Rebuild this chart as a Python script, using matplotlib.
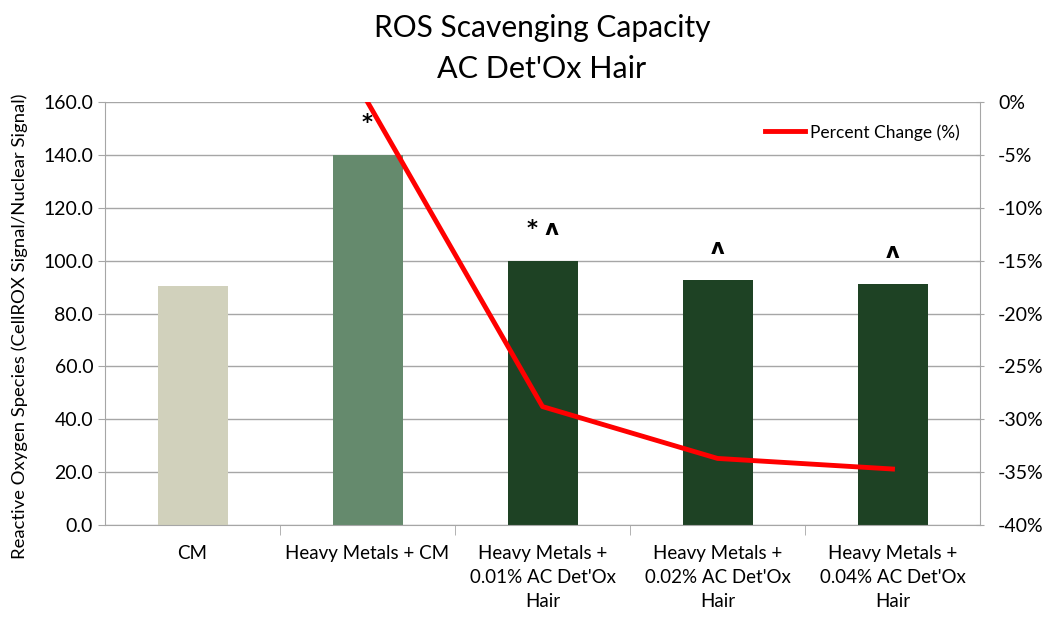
import matplotlib.pyplot as plt
import matplotlib.ticker as mticker

plt.rcParams['font.family'] = ['Lato', 'DejaVu Sans']

categories = ['CM', 'Heavy Metals + CM', "Heavy Metals +\n0.01% AC Det'Ox\nHair",
              "Heavy Metals +\n0.02% AC Det'Ox\nHair", "Heavy Metals +\n0.04% AC Det'Ox\nHair"]
ros_values = [90.5, 140.0, 100.0, 92.8, 91.3]
percent_change = [None, 0.0, -0.288, -0.337, -0.347]
marks = ['', '*', '* ^', '^', '^']
bar_colors = ['#D1D1BC', '#658A6D', '#1E4224', '#1E4224', '#1E4224']

fig = plt.figure(figsize=(10.42, 6.17), dpi=100)
ax = fig.add_axes([0.1008, 0.149, 0.8397, 0.6857])
grid_c = '#A6A6A6'

x = list(range(len(categories)))
ax.bar(x, ros_values, width=0.4, color=bar_colors, zorder=2)
for xi, v, m in zip(x, ros_values, marks):
    if m:
        ax.text(xi, v + 12, m.replace('^', '\u028c'), ha='center', va='center', fontsize=15,
                family=['DejaVu Sans'], fontweight='bold')

ax.set_xlim(-0.5, len(categories) - 0.5)
ax.set_ylim(0, 160)
ax.set_yticks(range(0, 161, 20))
ax.yaxis.set_major_formatter(mticker.FormatStrFormatter('%.1f'))
ax.grid(axis='y', color=grid_c, lw=1, zorder=0)
ax.set_xticks(x)
ax.set_xticklabels(categories, fontsize=13.5, linespacing=1.5)
ax.set_xticks([i + 0.5 for i in x[:-1]], minor=True)
ax.tick_params(axis='x', which='major', length=0, pad=14)
ax.tick_params(axis='x', which='minor', length=7, color=grid_c)
ax.tick_params(axis='y', labelsize=14, color=grid_c, length=5)
for s in ['left', 'bottom']:
    ax.spines[s].set_color(grid_c)
ax.spines['top'].set_visible(False)
ax.spines['right'].set_visible(False)
ax.set_ylabel('Reactive Oxygen Species (CellROX Signal/Nuclear Signal)', fontsize=13.3)
ax.yaxis.set_label_coords(-0.088, 0.47)

ax2 = ax.twinx()
px = [xi for xi, p in zip(x, percent_change) if p is not None]
py = [p for p in percent_change if p is not None]
ax2.plot(px, py, color='#FF0000', lw=3.5, label='Percent Change (%)', zorder=3)
ax2.set_ylim(-0.40, 0)
ax2.set_yticks([-0.05 * i for i in range(9)])
ax2.yaxis.set_major_formatter(mticker.FuncFormatter(lambda v, p: f'{round(v * 100):d}%'))
ax2.tick_params(axis='y', labelsize=14, color=grid_c, length=6, direction='inout', pad=10)
ax2.spines['right'].set_color(grid_c)
for s in ['left', 'top', 'bottom']:
    ax2.spines[s].set_visible(False)
ax2.legend(loc='upper right', frameon=False, fontsize=12.5, handlelength=2.3,
           bbox_to_anchor=(0.995, 0.985), handletextpad=0.3)

fig.text(0.52, 0.955, 'ROS Scavenging Capacity', ha='center', va='center', fontsize=21.5)
fig.text(0.52, 0.888, "AC Det'Ox Hair", ha='center', va='center', fontsize=22)

fig.savefig('out.png', dpi=100)
